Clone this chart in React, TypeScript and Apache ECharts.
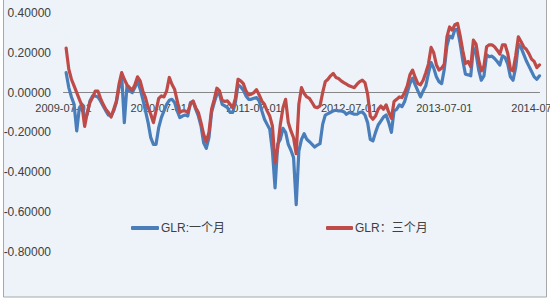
import React, { useEffect, useRef } from "react";
import * as echarts from "echarts";

const seriesNames = ["GLR:一个月", "GLR：三个月"];
const xTickLabels = ["2009-07-01", "2010-07-01", "2011-07-01", "2012-07-01", "2013-07-01", "2014-07-01"];
const yMin = -0.8;
const yMax = 0.4;
const yStep = 0.2;

// sample dates: 1st, 11th, 21st of each month, 2009-07-01 .. 2014-07-01
const sampleDays = [1, 11, 21];

// GLR one-month (blue)
const glr1m = [
  null,
  0.10, 0.025, -0.022, -0.059, -0.193, -0.076, -0.059, -0.126, -0.109, -0.042,
  -0.017, -0.017, -0.022, -0.042, -0.067, -0.092, -0.113, -0.118, -0.092, -0.05,
  0.025, 0.084, -0.151, 0.034, 0.008, 0.0, 0.025, 0.059, 0.017, -0.034,
  -0.092, -0.151, -0.227, -0.26, -0.26, -0.176, -0.126, -0.092, -0.059, -0.039,
  -0.034, -0.05, -0.092, -0.126, -0.118, -0.113, -0.118, -0.05, -0.045, -0.084,
  -0.118, -0.168, -0.252, -0.28, -0.227, -0.10, -0.05, -0.008, -0.008, -0.059,
  -0.067, -0.076, -0.10, -0.10, -0.05, 0.039, 0.029, 0.012, -0.017, -0.034,
  -0.034, -0.029, -0.025, -0.042, -0.092, -0.134, -0.16, -0.185, -0.294, -0.479,
  -0.26, -0.235, -0.18, -0.20, -0.26, -0.29, -0.327, -0.563, -0.294, -0.235,
  -0.207, -0.235, -0.247, -0.26, -0.274, -0.264, -0.257, -0.16, -0.113, -0.106,
  -0.10, -0.092, -0.089, -0.092, -0.092, -0.096, -0.109, -0.10, -0.104, -0.109,
  -0.109, -0.10, -0.097, -0.113, -0.151, -0.235, -0.243, -0.20, -0.163, -0.143,
  -0.123, -0.113, -0.151, -0.20, -0.092, -0.084, -0.062, -0.071, -0.045, 0.0,
  0.045, 0.072, 0.039, 0.008, -0.022, 0.008, 0.034, 0.096, 0.151, 0.123,
  0.08, 0.055, 0.045, 0.118, 0.235, 0.284, 0.274, 0.317, 0.316, 0.247,
  0.16, 0.092, 0.089, 0.084, 0.223, 0.196, 0.113, 0.062, 0.084, 0.19,
  0.18, 0.183, 0.171, 0.156, 0.138, 0.185, 0.176, 0.143, 0.079, 0.062,
  0.126, 0.244, 0.227, 0.193, 0.16, 0.133, 0.106, 0.079, 0.067, 0.084,
];

// GLR three-month (red)
const glr3m = [
  null,
  0.223, 0.118, 0.067, 0.034, 0.0, -0.034, -0.067, -0.17, -0.10, -0.05,
  -0.025, 0.008, 0.008, -0.029, -0.059, -0.084, -0.10, -0.123, -0.084, -0.042,
  0.042, 0.10, 0.067, 0.039, 0.025, 0.012, 0.039, 0.079, 0.059, 0.008,
  -0.025, -0.076, -0.109, -0.151, -0.092, -0.029, -0.017, -0.022, 0.008, 0.076,
  0.042, 0.017, -0.042, -0.10, -0.092, -0.092, -0.10, -0.059, -0.042, -0.076,
  -0.10, -0.151, -0.21, -0.247, -0.20, -0.084, -0.034, 0.022, 0.008, -0.039,
  -0.045, -0.042, -0.059, -0.076, -0.029, 0.067, 0.059, 0.045, 0.008, -0.012,
  -0.008, 0.0, 0.015, -0.012, -0.042, -0.059, -0.092, -0.118, -0.168, -0.353,
  -0.277, -0.16, -0.076, -0.034, -0.151, -0.193, -0.227, -0.307, -0.059, 0.025,
  -0.005, -0.022, -0.029, -0.05, -0.072, -0.076, -0.067, 0.0, 0.055, 0.067,
  0.084, 0.096, 0.076, 0.071, 0.059, 0.05, 0.042, 0.034, 0.029, 0.025,
  0.042, 0.055, 0.062, 0.05, -0.008, -0.118, -0.134, -0.118, -0.084, -0.067,
  -0.084, -0.062, -0.10, -0.13, -0.045, -0.034, -0.022, -0.025, 0.0, 0.034,
  0.089, 0.113, 0.076, 0.045, 0.039, 0.062, 0.10, 0.143, 0.227, 0.20,
  0.14, 0.113, 0.123, 0.143, 0.28, 0.33, 0.314, 0.341, 0.348, 0.285,
  0.21, 0.146, 0.156, 0.129, 0.264, 0.244, 0.163, 0.109, 0.134, 0.23,
  0.24, 0.24, 0.23, 0.213, 0.193, 0.24, 0.24, 0.196, 0.118, 0.109,
  0.185, 0.28, 0.257, 0.23, 0.218, 0.196, 0.168, 0.156, 0.126, 0.139,
];

function buildDates(): string[] {
  const out: string[] = [];
  const pad = (n: number) => (n < 10 ? "0" + n : "" + n);
  let y = 2009;
  let m = 7;
  while (y < 2014 || (y === 2014 && m < 7)) {
    for (const d of sampleDays) out.push(`${y}-${pad(m)}-${pad(d)}`);
    m++;
    if (m > 12) {
      m = 1;
      y++;
    }
  }
  out.push("2014-07-01");
  return out;
}

const FONT = "'Liberation Sans', 'Noto Sans CJK SC', sans-serif";
const TEXT = "#404040";
const GRID_TOP = 13;
const GRID_BOTTOM = 48.3;
const CHART_H = 300;

export default function App() {
  const ref = useRef<HTMLDivElement>(null);
  useEffect(() => {
    if (!ref.current) return;
    const chart = echarts.init(ref.current, undefined, { renderer: "svg" });
    const dates = buildDates();
    // distance from grid bottom up to the value 0 (axis sits on zero)
    const plotH = CHART_H - GRID_TOP - GRID_BOTTOM;
    const zeroOffset = (plotH * (0 - yMin)) / (yMax - yMin);
    chart.setOption({
      animation: false,
      backgroundColor: "#ffffff",
      graphic: [
        {
          type: "rect",
          z: -10,
          silent: true,
          shape: { x: 3.5, y: -5, width: 543, height: 302 },
          style: { fill: "#EEF3F9", stroke: "#A8A8A8", lineWidth: 1 },
        },
      ],
      grid: { left: 63.5, right: 50.5, top: GRID_TOP, bottom: GRID_BOTTOM, containLabel: false },
      legend: [
        {
          data: [seriesNames[0]],
          left: 131,
          top: 222,
          icon: "roundRect",
          itemWidth: 28,
          itemHeight: 4,
          itemGap: 0,
          padding: 0,
          textStyle: { fontSize: 12, color: TEXT, fontFamily: FONT, padding: [0, 0, 0, -3] },
        },
        {
          data: [seriesNames[1]],
          left: 326,
          top: 222,
          icon: "roundRect",
          itemWidth: 27,
          itemHeight: 4,
          itemGap: 0,
          padding: 0,
          textStyle: { fontSize: 12, color: TEXT, fontFamily: FONT, padding: [0, 0, 0, -3] },
        },
      ],
      xAxis: {
        type: "category",
        data: dates,
        boundaryGap: false,
        offset: -zeroOffset,
        axisLine: { onZero: false, lineStyle: { color: "#868686", width: 1 } },
        axisTick: { show: false },
        splitLine: { show: false },
        axisLabel: {
          interval: (_i: number, v: string) => xTickLabels.includes(v),
          margin: 10,
          fontSize: 11,
          color: TEXT,
          fontFamily: FONT,
        },
      },
      yAxis: {
        type: "value",
        min: yMin,
        max: yMax,
        interval: yStep,
        axisLine: { show: false },
        axisTick: { show: false },
        splitLine: { show: false },
        axisLabel: {
          margin: 12.5,
          fontSize: 12,
          color: TEXT,
          fontFamily: FONT,
          formatter: (v: number) => v.toFixed(5),
        },
      },
      series: [
        {
          name: seriesNames[0],
          type: "line",
          data: glr1m,
          showSymbol: false,
          symbol: "none",
          color: "#4A7EBB",
          lineStyle: { width: 3.2, color: "#4A7EBB", cap: "round", join: "round" },
        },
        {
          name: seriesNames[1],
          type: "line",
          data: glr3m,
          showSymbol: false,
          symbol: "none",
          color: "#BE4B48",
          lineStyle: { width: 3.2, color: "#BE4B48", cap: "round", join: "round" },
        },
      ],
    });
    return () => chart.dispose();
  }, []);
  return (
    <div style={{ position: "fixed", left: 0, top: 0, width: 550, height: 300, overflow: "hidden" }}>
      <div ref={ref} style={{ width: 590, height: 300 }} />
    </div>
  );
}
